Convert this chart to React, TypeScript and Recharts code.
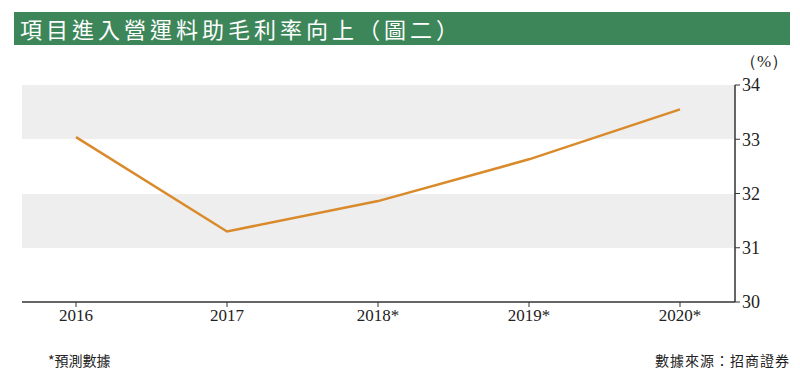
import React from 'react';
import {
  ComposedChart,
  Line,
  XAxis,
  YAxis,
  CartesianGrid,
} from 'recharts';

// data
const years = ['2016', '2017', '2018*', '2019*', '2020*'];
const margin = [33.04, 31.3, 31.86, 32.63, 33.55];
const yTicks = [30, 31, 32, 33, 34];

const data = years.map((year, i) => ({ year, margin: margin[i] }));

const SERIF = '"Liberation Serif", "DejaVu Serif", serif';
const CJK = '"Noto Sans CJK TC", "Noto Sans CJK SC", sans-serif';

export default function App() {
  return (
    <div
      style={{
        position: 'absolute',
        left: 0,
        top: 0,
        width: 800,
        height: 379,
        background: '#fff',
        overflow: 'hidden',
      }}
    >
      {/* title bar */}
      <div
        style={{
          position: 'absolute',
          left: 14,
          top: 12,
          width: 776,
          height: 33,
          background: '#3d8659',
          color: '#fff',
          fontFamily: CJK,
          fontSize: 22,
          lineHeight: '33px',
          letterSpacing: 4,
          paddingLeft: 6,
          boxSizing: 'border-box',
        }}
      >
        項目進入營運料助毛利率向上（圖二）
      </div>

      <div
        style={{
          position: 'absolute',
          left: 740,
          top: 50,
          fontFamily: SERIF,
          fontSize: 17,
          color: '#222',
        }}
      >
        （%）
      </div>

      <ComposedChart
        width={800}
        height={379}
        data={data}
        margin={{ top: 85, right: 0, bottom: 47, left: 22 }}
        style={{ position: 'absolute', left: 0, top: 0 }}
      >
        {/* alternating grey bands: 34-33 and 32-31 */}
        <CartesianGrid
          vertical={false}
          stroke="transparent"
          horizontalFill={['#eeeeee', '#ffffff']}
          fillOpacity={1}
        />
        <XAxis
          dataKey="year"
          padding={{ left: 54, right: 55 }}
          height={30}
          axisLine={{ stroke: '#333', strokeWidth: 1.5 }}
          tickLine={{ stroke: '#333' }}
          tickSize={5}
          tick={{ fill: '#222', fontSize: 17, fontFamily: SERIF }}
        />
        <YAxis
          orientation="right"
          width={65}
          domain={[30, 34]}
          ticks={yTicks}
          axisLine={{ stroke: '#333', strokeWidth: 1.5 }}
          tickLine={{ stroke: '#333' }}
          tickSize={5}
          tick={{ fill: '#222', fontSize: 18, fontFamily: SERIF }}
        />
        <Line
          type="linear"
          dataKey="margin"
          stroke="#d98a2b"
          strokeWidth={2.5}
          dot={false}
          activeDot={false}
          isAnimationActive={false}
        />
      </ComposedChart>

      <div
        style={{
          position: 'absolute',
          left: 48,
          top: 350,
          fontFamily: CJK,
          fontSize: 14,
          color: '#222',
        }}
      >
        *預測數據
      </div>
      <div
        style={{
          position: 'absolute',
          right: 10,
          top: 350,
          fontFamily: CJK,
          fontSize: 14,
          color: '#222',
          letterSpacing: 1,
        }}
      >
        數據來源：招商證券
      </div>
    </div>
  );
}
